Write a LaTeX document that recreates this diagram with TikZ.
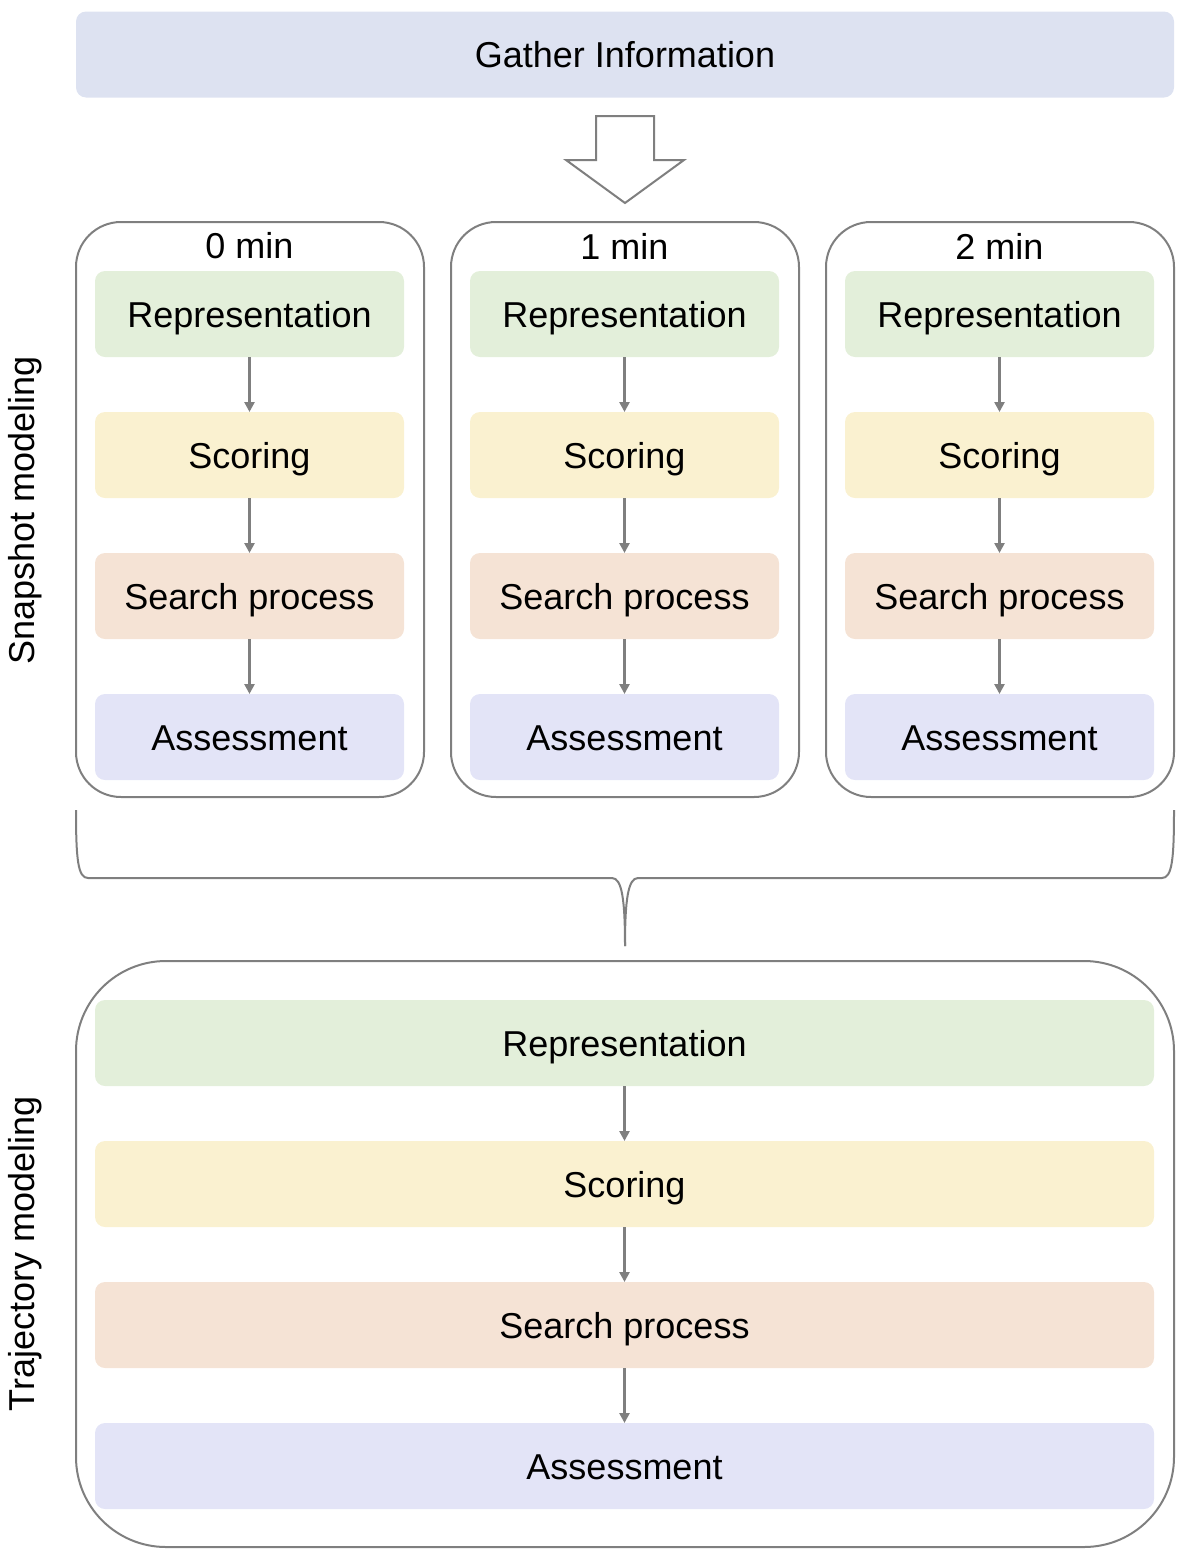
\documentclass[tikz,border=0pt]{standalone}
\usepackage{fontspec}
\setmainfont{Liberation Sans}
\usetikzlibrary{arrows.meta}
\definecolor{linegray}{HTML}{7F7F7F}
\definecolor{gatherfill}{HTML}{DDE2F1}
\definecolor{repfill}{HTML}{E3EFDA}
\definecolor{scorefill}{HTML}{FAF1D0}
\definecolor{searchfill}{HTML}{F5E3D5}
\definecolor{assessfill}{HTML}{E3E4F7}
\begin{document}
\begin{tikzpicture}[x=1pt,y=-1pt,
  every node/.style={font=\fontsize{36}{43}\selectfont, inner sep=0pt, outer sep=0pt},
  stage/.style={rectangle, rounded corners=10pt, minimum height=86pt, text height=26pt, text depth=0pt},
  container/.style={rectangle, draw=linegray, line width=2pt},
  flow/.style={draw=linegray, line width=3pt, -{Triangle[length=10pt,width=10pt]}},
  sidelabel/.style={rotate=90}
]
\useasboundingbox (0,0) rectangle (1188,1558);

% input stage
\node[stage, fill=gatherfill, minimum width=1098pt] (gather) at (625,54.5) {Gather Information};

% hollow arrow below the input stage
\draw[linegray, line width=2pt, fill=white, line join=miter]
  (596,116) -- (654,116) -- (654,160) -- (684,160) -- (625,203) -- (566,160) -- (596,160) -- cycle;

% snapshot columns
\foreach \i/\cx/\t in {1/249.5/0 min, 2/624.5/1 min, 3/999.5/2 min} {
  \node[container, rounded corners=45pt, minimum width=348pt, minimum height=575pt] (col\i) at (\cx+0.5,509.5) {};
  \node (title\i) at (\cx,246) {\t};
  \node[stage, fill=repfill, minimum width=309pt] (rep\i) at (\cx,314) {Representation};
  \node[stage, fill=scorefill, minimum width=309pt] (score\i) at (\cx,455) {Scoring};
  \node[stage, fill=searchfill, minimum width=309pt] (search\i) at (\cx,596) {Search process};
  \node[stage, fill=assessfill, minimum width=309pt] (assess\i) at (\cx,737) {Assessment};
  \draw[flow] (rep\i) -- (score\i);
  \draw[flow] (score\i) -- (search\i);
  \draw[flow] (search\i) -- (assess\i);
}

% brace gathering the snapshots
\coordinate (bl) at (76,810);
\coordinate (br) at (1174,810);
\coordinate (btip) at (625,946);
\draw[linegray, line width=2pt]
  (bl) .. controls (76,860) and (78,878) .. (88,878)
  -- (612,878) .. controls (622,878) and (625,900) .. (btip);
\draw[linegray, line width=2pt]
  (br) .. controls (1174,860) and (1172,878) .. (1162,878)
  -- (638,878) .. controls (628,878) and (625,900) .. (btip);

% trajectory block
\node[container, rounded corners=90pt, minimum width=1098pt, minimum height=586pt] (traj) at (625,1254) {};
\node[stage, fill=repfill, minimum width=1059pt] (trep) at (624.5,1043) {Representation};
\node[stage, fill=scorefill, minimum width=1059pt] (tscore) at (624.5,1184) {Scoring};
\node[stage, fill=searchfill, minimum width=1059pt] (tsearch) at (624.5,1325) {Search process};
\node[stage, fill=assessfill, minimum width=1059pt] (tassess) at (624.5,1466) {Assessment};
\draw[flow] (trep) -- (tscore);
\draw[flow] (tscore) -- (tsearch);
\draw[flow] (tsearch) -- (tassess);

% row labels
\node[sidelabel] (snaplabel) at (25,510) {Snapshot modeling};
\node[sidelabel] (trajlabel) at (25,1254) {Trajectory modeling};
\end{tikzpicture}
\end{document}
